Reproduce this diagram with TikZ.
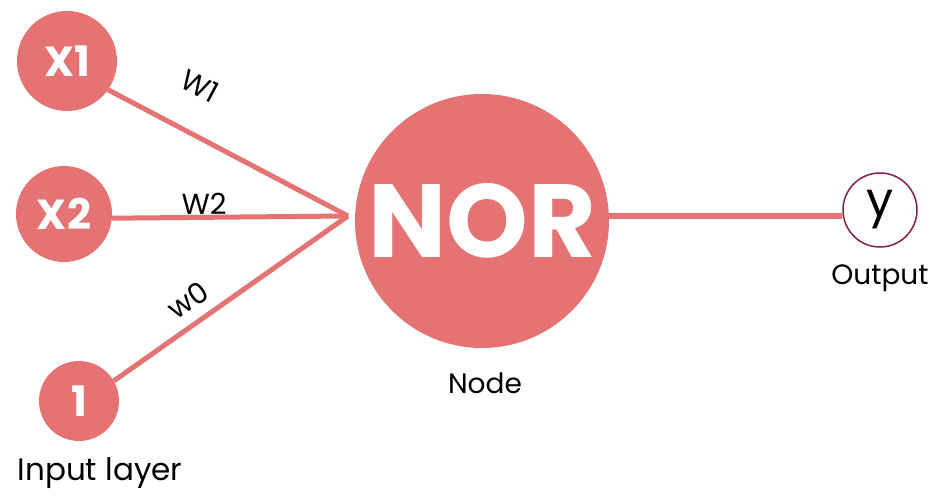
\documentclass[tikz,border=0pt]{standalone}
\usepackage{fontspec}
\setmainfont{Poppins}
\definecolor{salmon}{RGB}{229,115,115}
\definecolor{maroon}{RGB}{135,35,60}
\pgfdeclarelayer{bg}
\pgfsetlayers{bg,main}
\begin{document}
\begin{tikzpicture}[x=1pt,y=-1pt,
  innode/.style={circle,fill=salmon,inner sep=0pt,text=white,font=\fontsize{42}{42}\selectfont\bfseries},
  wire/.style={draw=salmon,line width=5pt},
  lbl/.style={text=black,font=\fontsize{29}{29}\selectfont}]
\useasboundingbox (0,0) rectangle (938,502);
\node[innode,minimum size=100pt] (x1) at (67,61) {X1};
\node[innode,minimum size=96pt] (x2) at (64,214) {X2};
\node[innode,minimum size=80pt] (b) at (79,401) {1};
\node[innode,minimum size=254pt,font=\fontsize{104}{104}\selectfont\bfseries] (nor) at (482,221) {NOR};
\node[circle,draw=maroon,line width=1.5pt,fill=white,minimum size=74pt,inner sep=0pt,font=\fontsize{48}{48}\selectfont] (y) at (880,210) {y};
\coordinate (j) at (348,216);
\begin{pgfonlayer}{bg}
\draw[wire] (x1.-35) -- (j);
\draw[wire] (x2.-5) -- (j);
\draw[wire] (b.30) -- (j);
\draw[wire,line width=6pt] (nor.east |- j) -- (y.west |- j);
\end{pgfonlayer}
\node[lbl,rotate=-28] (w1) at (200,86) {W1};
\node[lbl] (w2) at (204,204) {W2};
\node[lbl,rotate=35] (w0) at (188,300) {w0};
\node[lbl,font=\fontsize{28}{28}\selectfont] (out) at (880,278) {Output};
\node[lbl,font=\fontsize{28}{28}\selectfont] (nd) at (485,383) {Node};
\node[lbl,font=\fontsize{31}{31}\selectfont] (il) at (100,473) {Input layer};
\end{tikzpicture}
\end{document}
